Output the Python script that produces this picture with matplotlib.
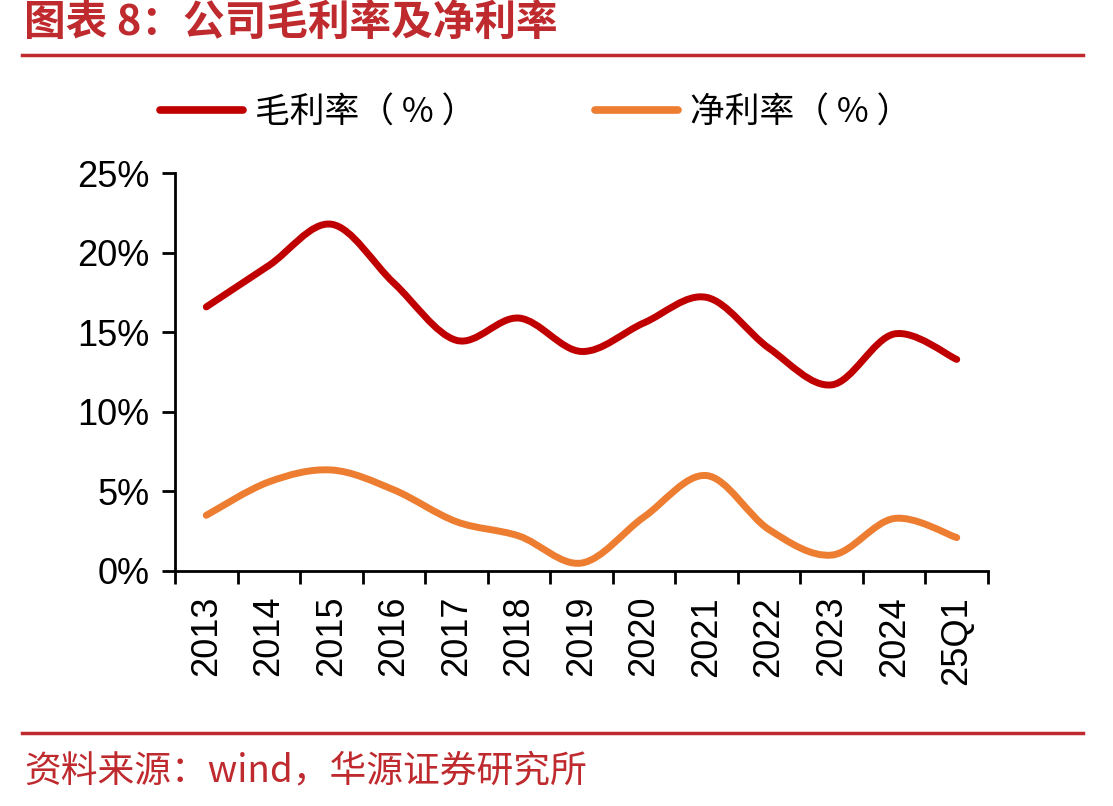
import matplotlib
matplotlib.use('Agg')
import matplotlib.pyplot as plt
from matplotlib.path import Path
from matplotlib.patches import PathPatch
from matplotlib.lines import Line2D

plt.rcParams['font.family'] = ['Liberation Sans', 'Noto Sans CJK SC']

# 数据
periods = ['2013', '2014', '2015', '2016', '2017', '2018', '2019',
           '2020', '2021', '2022', '2023', '2024', '25Q1']
gross_margin = [16.6, 19.2, 21.8, 18.1, 14.5, 15.9, 13.8, 15.6, 17.2, 14.0, 11.7, 14.9, 13.3]
net_margin = [3.5, 5.6, 6.35, 5.1, 3.1, 2.2, 0.5, 3.4, 6.0, 2.6, 1.0, 3.3, 2.1]

red = '#C00000'
orange = '#ED7D31'
brand = '#BE2A2E'
cjk = ['Noto Sans CJK SC', 'Liberation Sans']


def smooth_path(xs, ys):
    # Catmull-Rom -> 三次贝塞尔，类似 Excel 平滑线
    pts = list(zip(xs, ys))
    n = len(pts)
    verts = [pts[0]]
    codes = [Path.MOVETO]
    for i in range(n - 1):
        p0 = pts[i - 1] if i > 0 else pts[i]
        p1 = pts[i]
        p2 = pts[i + 1]
        p3 = pts[i + 2] if i + 2 < n else pts[i + 1]
        c1 = (p1[0] + (p2[0] - p0[0]) / 6, p1[1] + (p2[1] - p0[1]) / 6)
        c2 = (p2[0] - (p3[0] - p1[0]) / 6, p2[1] - (p3[1] - p1[1]) / 6)
        verts += [c1, c2, p2]
        codes += [Path.CURVE4] * 3
    return Path(verts, codes)


fig = plt.figure(figsize=(11.13, 8.06), dpi=100)
ax = fig.add_axes([175 / 1113, 1 - 571 / 806, (988 - 175) / 1113, (571 - 173.3) / 806])

x = list(range(len(periods)))
for vals, col in [(gross_margin, red), (net_margin, orange)]:
    patch = PathPatch(smooth_path(x, vals), facecolor='none', edgecolor=col,
                      linewidth=5, capstyle='round', joinstyle='round')
    ax.add_patch(patch)

ax.set_xlim(-0.5, len(periods) - 0.5)
ax.set_ylim(0, 25)
ax.set_yticks([0, 5, 10, 15, 20, 25])
ax.set_yticklabels(['0%', '5%', '10%', '15%', '20%', '25%'])

ax.set_xticks([i - 0.5 for i in range(len(periods) + 1)])
ax.set_xticklabels([])
ax.set_xticks(x, minor=True)
ax.set_xticklabels(periods, minor=True, rotation=90)

ax.tick_params(axis='y', length=9.5, width=2, pad=9, labelsize=26, direction='out')
ax.tick_params(axis='x', which='major', length=9.5, width=2, direction='out')
ax.tick_params(axis='x', which='minor', length=0, pad=18, labelsize=26)

for side in ['top', 'right']:
    ax.spines[side].set_visible(False)
for side in ['left', 'bottom']:
    ax.spines[side].set_linewidth(2)

# 图例
handles = [Line2D([], [], color=red, linewidth=5.5, solid_capstyle='round'),
           Line2D([], [], color=orange, linewidth=5.5, solid_capstyle='round')]
fig.legend(handles, ['毛利率（ % ）', '净利率（ % ）'], loc='center left',
           bbox_to_anchor=(160 / 1113, 1 - 113 / 806), ncol=2, frameon=False,
           prop={'family': cjk, 'size': 25}, handlelength=2.4, handletextpad=0.35,
           columnspacing=3.4, borderpad=0, borderaxespad=0)

# 标题与来源
fig.text(24 / 1113, 1 - 23 / 806, '图表 8：公司毛利率及净利率', color=brand,
         fontsize=30, fontweight='bold', family=cjk, va='center', ha='left')
fig.add_artist(Line2D([22 / 1113, 1083 / 1113], [1 - 55 / 806, 1 - 55 / 806],
                      color=brand, linewidth=2.5))
fig.add_artist(Line2D([22 / 1113, 1083 / 1113], [1 - 733 / 806, 1 - 733 / 806],
                      color=brand, linewidth=2.5))
fig.text(24 / 1113, 1 - 771 / 806, '资料来源：wind，华源证券研究所', color=brand,
         fontsize=26.5, family=cjk, va='center', ha='left')

fig.savefig('out.png', dpi=100)
